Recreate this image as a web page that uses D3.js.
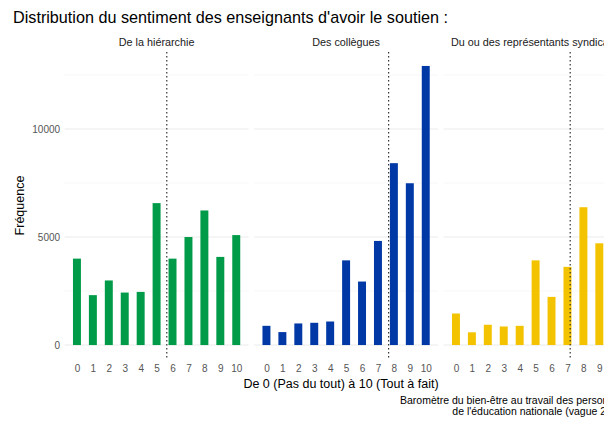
<!DOCTYPE html>
<html>
<head>
<meta charset="utf-8">
<script src="https://cdn.jsdelivr.net/npm/d3@7/dist/d3.min.js"></script>
<style>
  html, body { margin: 0; padding: 0; background: #fff; }
  svg { display: block; overflow: hidden; }
  text { font-family: "Liberation Sans", Arial, sans-serif; }
</style>
</head>
<body>
<div id="chart"></div>
<script>
// données
var categories = [0, 1, 2, 3, 4, 5, 6, 7, 8, 9, 10];
var panelNames = ['De la hiérarchie', 'Des collègues', 'Du ou des représentants syndicaux'];
var panelColors = ['#009b48', '#0039a6', '#f4c300'];
var hierarchie = [4000, 2310, 2990, 2430, 2460, 6570, 4000, 5000, 6230, 4080, 5090];
var collegues = [890, 600, 1000, 1030, 1090, 3920, 2940, 4820, 8420, 7490, 12920];
var syndicats = [1460, 590, 940, 860, 890, 3920, 2230, 3620, 6380, 4710, 8200];
var moyennes = [5.64, 7.67, 7.17];
var yTicks = [0, 5000, 10000];
var yMinorTicks = [2500, 7500, 12500];

var title = "Distribution du sentiment des enseignants d'avoir le soutien :";
var xTitle = 'De 0 (Pas du tout) à 10 (Tout à fait)';
var yTitle = 'Fréquence';
var caption = ['Baromètre du bien-être au travail des personnels', "de l'éducation nationale (vague 2)"];

var series = [hierarchie, collegues, syndicats];

var W = 604, H = 421;
var plotLeft = 64.6, plotTop = 52, plotBottom = 359;
var panelW = 184, gap = 5.5;
var plotRight = plotLeft + 3 * panelW + 2 * gap;

var svg = d3.select('#chart').append('svg')
  .attr('width', W)
  .attr('height', H);

var x = d3.scaleLinear().domain([-0.775, 10.775]).range([0, panelW]);
var yMax = d3.max(series, function(s) { return d3.max(s); });
var y = d3.scaleLinear().domain([-0.05 * yMax, 1.05 * yMax]).range([plotBottom, plotTop]);
var barW = x(0.25) - x(-0.25);

svg.append('text')
  .attr('x', 13).attr('y', 23)
  .style('font-size', '16.2px')
  .style('fill', '#000')
  .text(title);

// axe y (premier panneau seulement)
var yAxis = svg.append('g')
  .attr('transform', 'translate(' + plotLeft + ',0)')
  .call(d3.axisLeft(y).tickValues(yTicks).tickSize(0).tickPadding(4.5).tickFormat(d3.format('d')));
yAxis.select('.domain').remove();
yAxis.selectAll('text')
  .style('font-family', '"Liberation Sans", Arial, sans-serif')
  .style('font-size', '10px')
  .style('fill', '#555');

svg.append('text')
  .attr('transform', 'translate(24,' + ((plotTop + plotBottom) / 2) + ') rotate(-90)')
  .attr('text-anchor', 'middle')
  .style('font-size', '12.5px')
  .style('fill', '#000')
  .text(yTitle);

series.forEach(function(values, p) {
  var g = svg.append('g')
    .attr('class', 'panel-' + p)
    .attr('transform', 'translate(' + (plotLeft + p * (panelW + gap)) + ',0)');

  // grilles
  g.selectAll('.minor').data(yMinorTicks).enter()
    .append('line')
    .attr('class', 'minor')
    .attr('x1', 0).attr('x2', panelW)
    .attr('y1', function(d) { return y(d); })
    .attr('y2', function(d) { return y(d); })
    .style('stroke', '#f2f2f2')
    .style('stroke-width', 0.6);
  g.selectAll('.major').data(yTicks).enter()
    .append('line')
    .attr('class', 'major')
    .attr('x1', 0).attr('x2', panelW)
    .attr('y1', function(d) { return y(d); })
    .attr('y2', function(d) { return y(d); })
    .style('stroke', '#ebebeb')
    .style('stroke-width', 1.1);

  g.selectAll('.bar').data(values).enter()
    .append('rect')
    .attr('class', 'bar')
    .attr('x', function(d, i) { return x(categories[i]) - barW / 2; })
    .attr('width', barW)
    .attr('y', function(d) { return y(d); })
    .attr('height', function(d) { return y(0) - y(d); })
    .style('fill', panelColors[p]);

  g.append('line')
    .attr('x1', x(moyennes[p])).attr('x2', x(moyennes[p]))
    .attr('y1', plotTop).attr('y2', plotBottom)
    .style('stroke', '#222')
    .style('stroke-width', 1.1)
    .style('stroke-dasharray', '1.5,2.5');

  g.append('text')
    .attr('x', panelW / 2).attr('y', 45.5)
    .attr('text-anchor', 'middle')
    .style('font-size', '10.8px')
    .style('fill', '#1a1a1a')
    .text(panelNames[p]);

  var xAxis = g.append('g')
    .attr('transform', 'translate(0,' + plotBottom + ')')
    .call(d3.axisBottom(x).tickValues(categories).tickSize(0).tickPadding(6).tickFormat(d3.format('d')));
  xAxis.select('.domain').remove();
  xAxis.selectAll('text')
    .style('font-family', '"Liberation Sans", Arial, sans-serif')
    .style('font-size', '10px')
    .style('fill', '#555');
});

svg.append('text')
  .attr('x', 341).attr('y', 387.5)
  .attr('text-anchor', 'middle')
  .style('font-size', '12.5px')
  .style('fill', '#000')
  .text(xTitle);

svg.selectAll('.caption').data(caption).enter()
  .append('text')
  .attr('class', 'caption')
  .attr('x', function(d, i) { return plotRight - i * 18; })
  .attr('y', function(d, i) { return 404 + i * 10.5; })
  .attr('text-anchor', 'end')
  .style('font-size', '10.5px')
  .style('fill', '#000')
  .text(function(d) { return d; });
</script>
</body>
</html>
